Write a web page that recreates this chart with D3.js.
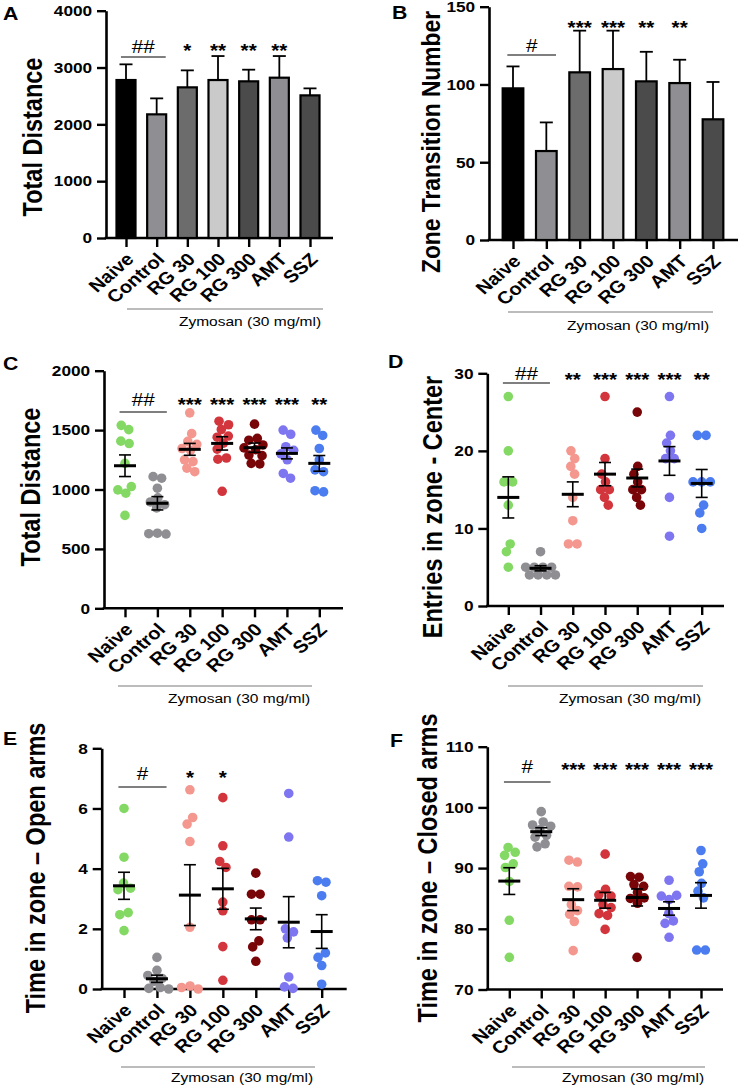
<!DOCTYPE html>
<html><head><meta charset="utf-8">
<script src="https://cdn.jsdelivr.net/npm/d3@7"></script>
<style>
body{margin:0;background:#fff}
text{font-family:"Liberation Sans",Arial,Helvetica,sans-serif;fill:#000}
</style>
</head><body>
<svg id="chart" width="740" height="1087"></svg>
<script>
// ---------- DATA ----------
const categories = ["Naive", "Control", "RG 30", "RG 100", "RG 300", "AMT", "SSZ"];
const groupLabel = "Zymosan (30 mg/ml)";

// Panel A: bars (mean, SD)
const distanceA = [2780, 2176, 2651, 2780, 2757, 2821, 2510];
const distanceAErr = [276, 281, 299, 422, 205, 381, 123];
const sigA = ["", "", "*", "**", "**", "**", ""];
const hashA = "##";
const ticksA = [0, 1000, 2000, 3000, 4000];

// Panel B: bars
const transitionsB = [97.5, 57.2, 107.8, 109.9, 102.0, 100.9, 77.6];
const transitionsBErr = [14.1, 18.4, 26.8, 24.7, 19.0, 15.0, 24.0];
const sigB = ["", "", "***", "***", "**", "**", ""];
const hashB = "#";
const ticksB = [0, 50, 100, 150];

// Panel C: individual points + mean/SEM
const distanceC = [
  [1540, 1504, 1407, 1387, 1220, 1025, 997, 969, 782],
  [1108, 1095, 1011, 930, 895, 872, 845, 632, 628, 625],
  [1645, 1470, 1405, 1380, 1345, 1330, 1250, 1235, 1180, 1150],
  [1575, 1545, 1505, 1450, 1440, 1390, 1340, 1265, 1255, 985],
  [1550, 1430, 1415, 1375, 1350, 1335, 1290, 1285, 1220, 1215],
  [1500, 1465, 1360, 1330, 1300, 1250, 1135, 1095],
  [1500, 1455, 1345, 1250, 1165, 1150, 990, 980]
];
const distanceCMean = [1200, 884, 1338, 1388, 1352, 1304, 1220];
const distanceCSem = [91, 56, 50, 56, 39, 46, 66];
const sigC = ["", "", "***", "***", "***", "***", "**"];
const hashC = "##";
const ticksC = [0, 500, 1000, 1500, 2000];

// Panel D
const entriesD = [
  [27, 20, 16, 16, 13, 8, 7, 5],
  [7, 5, 5, 5, 5, 4, 4, 4, 4],
  [20, 19, 18, 17, 14, 11, 8, 8],
  [27, 19, 17, 16, 15, 15, 14, 13],
  [25, 18, 17, 16, 15, 15, 14, 13],
  [27, 22, 21, 20, 19, 19, 14, 9],
  [22, 22, 16, 16, 16, 13, 12, 10]
];
const entriesDMean = [14.0, 4.86, 14.4, 17.0, 16.5, 18.7, 15.8];
const entriesDSem = [2.65, 0.33, 1.6, 1.5, 1.15, 1.85, 1.8];
const sigD = ["", "", "**", "***", "***", "***", "**"];
const hashD = "##";
const ticksD = [0, 10, 20, 30];

// Panel E
const openE = [
  [6.0, 4.38, 3.52, 3.35, 3.3, 2.54, 2.47, 1.94],
  [1.05, 0.62, 0.45, 0.35, 0.25, 0.05, 0.02, 0.0],
  [6.62, 5.7, 5.48, 4.9, 2.05, 0.1, 0.05, 0.0],
  [6.36, 4.76, 4.24, 4.04, 2.89, 2.6, 1.41, 0.29],
  [3.85, 3.15, 3.15, 2.3, 2.3, 1.6, 1.4, 0.92],
  [6.5, 5.05, 2.0, 1.9, 1.7, 0.4, 0.07, 0.02],
  [3.6, 3.55, 3.1, 1.2, 1.05, 0.78, 0.16]
];
const openEMean = [3.43, 0.34, 3.12, 3.33, 2.33, 2.22, 1.91];
const openESem = [0.45, 0.12, 1.01, 0.68, 0.36, 0.85, 0.56];
const sigE = ["", "", "*", "*", "", "", ""];
const hashE = "#";
const ticksE = [0, 2, 4, 6, 8];

// Panel F
const closedF = [
  [93.4, 92.6, 92.1, 90.7, 90.1, 87.8, 81.4, 75.3],
  [99.3, 97.6, 97.1, 96.9, 96.3, 95.4, 95.1, 94.0, 93.5],
  [91.3, 91.0, 87.0, 86.9, 84.0, 83.0, 82.4, 81.2, 76.4],
  [92.3, 86.5, 85.6, 85.4, 84.0, 83.5, 82.5, 82.2, 79.9],
  [88.6, 88.5, 87.3, 87.0, 86.0, 85.1, 85.0, 84.2, 75.3],
  [88.0, 85.5, 85.4, 84.8, 82.5, 81.3, 80.9, 78.6],
  [92.9, 90.7, 89.4, 87.5, 86.2, 85.1, 76.5, 76.5]
];
const closedFMean = [87.86, 96.0, 84.8, 84.7, 85.16, 83.35, 85.5];
const closedFSem = [2.2, 0.65, 1.8, 1.3, 1.4, 1.1, 2.1];
const sigF = ["", "", "***", "***", "***", "***", "***"];
const hashF = "#";
const ticksF = [70, 80, 90, 100, 110];

// ---------- STYLE ----------
const barColors = ["#000000", "#8f8f93", "#6c6c6c", "#cacaca", "#4b4b4b", "#8f8f93", "#4b4b4b"];
const dotColors = ["#84d964", "#8e8e93", "#f4978f", "#d2363c", "#780508", "#7e75f1", "#4b7cf0"];
const SX = 1.15; // horizontal glyph stretch seen in the reference
const FONT = '"Liberation Sans",Arial,Helvetica,sans-serif';

const svg = d3.select("#chart");

function stretchedText(g, x, y, str, opts) {
  const rot = opts.rotate || 0;
  return g.append("text")
    .attr("transform", `translate(${x},${y}) scale(${SX},1) rotate(${rot})`)
    .attr("text-anchor", opts.anchor || "start")
    .attr("dy", opts.dy || null)
    .style("font-size", opts.size + "px")
    .style("font-weight", opts.weight || "normal")
    .text(str);
}

function panel(cfg) {
  const g = svg.append("g");
  const y = d3.scaleLinear().domain(cfg.domain).range([cfg.yBot, cfg.yTop]);
  const x = d3.scalePoint().domain(categories).range([cfg.first, cfg.last]);
  const step = x.step();

  // y axis
  const ya = g.append("g").attr("transform", `translate(${cfg.axisX},0)`)
    .call(d3.axisLeft(y).tickValues(cfg.ticks).tickFormat(d3.format("d"))
      .tickSize(9).tickSizeOuter(0).tickPadding(3));
  ya.select(".domain").attr("stroke", "#000").attr("stroke-width", 2.6);
  ya.selectAll(".tick line").attr("stroke", "#000").attr("stroke-width", 2.4);
  ya.selectAll(".tick text")
    .attr("transform", `scale(${SX},1)`)
    .style("font-family", FONT).style("font-size", "15px").style("font-weight", "bold").attr("fill", "#000");

  // x axis
  const xa = g.append("g").attr("transform", `translate(0,${cfg.yBot})`)
    .call(d3.axisBottom(x).tickSize(9).tickSizeOuter(0).tickFormat(""));
  xa.select(".domain").remove();
  xa.selectAll(".tick line").attr("stroke", "#000").attr("stroke-width", 2.4);
  g.append("line").attr("x1", cfg.axisX - 1.3).attr("x2", cfg.endX)
    .attr("y1", cfg.yBot).attr("y2", cfg.yBot).attr("stroke", "#000").attr("stroke-width", 2.6);

  categories.forEach(c => {
    stretchedText(g, x(c) + 4, cfg.yBot + 18, c, {rotate: -45, anchor: "end", dy: "0.35em", size: 17.5, weight: "bold"});
  });

  // group line + label
  const z = cfg.zym;
  g.append("line").attr("x1", z.x1).attr("x2", z.x2).attr("y1", z.y).attr("y2", z.y)
    .attr("stroke", "#7a7a7a").attr("stroke-width", 1.1);
  stretchedText(g, z.tx, z.ty, groupLabel, {anchor: "middle", size: 13.5});

  // y label
  stretchedText(g, cfg.yl[0], cfg.yl[1], cfg.ylabel, {rotate: -90, anchor: "middle", size: cfg.ylSize || 23.5, weight: "bold"});
  // panel letter
  stretchedText(g, cfg.letterPos[0], cfg.letterPos[1], cfg.letter, {size: 18.5, weight: "bold"});

  if (cfg.type === "bar") {
    const bw = step * 0.62;
    categories.forEach((c, i) => {
      const m = cfg.mean[i], e = cfg.err[i], cx = x(c);
      g.append("line").attr("x1", cx).attr("x2", cx).attr("y1", y(m)).attr("y2", y(m + e))
        .attr("stroke", "#000").attr("stroke-width", 1.8);
      g.append("line").attr("x1", cx - 6.5).attr("x2", cx + 6.5).attr("y1", y(m + e)).attr("y2", y(m + e))
        .attr("stroke", "#000").attr("stroke-width", 1.8);
      g.append("rect").attr("x", cx - bw / 2).attr("width", bw)
        .attr("y", y(m)).attr("height", y(cfg.domain[0]) - y(m))
        .attr("fill", barColors[i]).attr("stroke", "#000").attr("stroke-width", 2.2);
    });
  } else {
    const r = 4.8;
    categories.forEach((c, i) => {
      const cx = x(c);
      const nodes = cfg.points[i].map((v, k) => ({x: cx + (k % 2 ? 1 : -1) * (0.6 * k + 0.3), y: y(v), fy: y(v)}));
      const sim = d3.forceSimulation(nodes)
        .force("x", d3.forceX(cx).strength(0.07))
        .force("c", d3.forceCollide(r * 0.9))
        .stop();
      for (let t = 0; t < 250; t++) sim.tick();
      g.append("g").selectAll("circle").data(nodes).join("circle")
        .attr("cx", d => d.x).attr("cy", d => d.fy).attr("r", r)
        .attr("fill", dotColors[i]);
    });
    categories.forEach((c, i) => {
      const cx = x(c), m = cfg.mean[i], s = cfg.sem[i];
      const lc = "#000";
      g.append("line").attr("x1", cx).attr("x2", cx).attr("y1", y(m - s)).attr("y2", y(m + s))
        .attr("stroke", lc).attr("stroke-width", 1.6);
      [m - s, m + s].forEach(v => g.append("line").attr("x1", cx - 6).attr("x2", cx + 6)
        .attr("y1", y(v)).attr("y2", y(v)).attr("stroke", lc).attr("stroke-width", 1.6));
      g.append("line").attr("x1", cx - 11).attr("x2", cx + 11).attr("y1", y(m)).attr("y2", y(m))
        .attr("stroke", lc).attr("stroke-width", 3);
    });
  }

  // significance
  cfg.sig.forEach((s, i) => {
    if (!s) return;
    stretchedText(g, x(categories[i]), cfg.starY + 10.5, s, {anchor: "middle", size: 18, weight: "bold"});
  });
  const mid = (x(categories[0]) + x(categories[1])) / 2 + 2;
  g.append("line").attr("x1", mid - step * 0.73).attr("x2", mid + step * 0.73)
    .attr("y1", cfg.hashLineY).attr("y2", cfg.hashLineY).attr("stroke", "#555").attr("stroke-width", 1.5);
  stretchedText(g, mid, cfg.hashY + 6.3, cfg.hash, {anchor: "middle", size: 18});
}

panel({type: "bar", letter: "A", letterPos: [3, 20], ylabel: "Total Distance", yl: [42, 137],
  axisX: 106, endX: 333, first: 126, last: 310, yTop: 10.7, yBot: 238, domain: [0, 4000], ticks: ticksA,
  mean: distanceA, err: distanceAErr, sig: sigA, hash: hashA, starY: 46, hashY: 47, hashLineY: 57,
  zym: {x1: 127, x2: 323, y: 309, tx: 250, ty: 326}});

panel({type: "bar", letter: "B", letterPos: [392, 19], ylabel: "Zone Transition Number", yl: [440, 142], ylSize: 22.8,
  axisX: 489, endX: 738, first: 513, last: 713, yTop: 6.7, yBot: 240, domain: [0, 150], ticks: ticksB,
  mean: transitionsB, err: transitionsBErr, sig: sigB, hash: hashB, starY: 23, hashY: 46, hashLineY: 55,
  zym: {x1: 508, x2: 713, y: 312, tx: 638, ty: 330}});

panel({type: "dot", letter: "C", letterPos: [3, 370], ylabel: "Total Distance", yl: [40, 487],
  axisX: 104, endX: 343, first: 125, last: 319.3, yTop: 370.7, yBot: 608.3, domain: [0, 2000], ticks: ticksC,
  points: distanceC, mean: distanceCMean, sem: distanceCSem, sig: sigC, hash: hashC, starY: 400, hashY: 400, hashLineY: 412,
  zym: {x1: 118, x2: 312, y: 686, tx: 239, ty: 703}});

panel({type: "dot", letter: "D", letterPos: [388, 368], ylabel: "Entries in zone - Center", yl: [442, 507],
  axisX: 487.3, endX: 724, first: 508.3, last: 701.7, yTop: 373.3, yBot: 606, domain: [0, 30], ticks: ticksD,
  points: entriesD, mean: entriesDMean, sem: entriesDSem, sig: sigD, hash: hashD, starY: 375, hashY: 374, hashLineY: 383,
  zym: {x1: 508, x2: 703, y: 686, tx: 630, ty: 703}});

panel({type: "dot", letter: "E", letterPos: [3, 745], ylabel: "Time in zone \u2013 Open arms", yl: [45, 868],
  axisX: 101.7, endX: 346.7, first: 124, last: 321.7, yTop: 748.3, yBot: 989, domain: [0, 8], ticks: ticksE,
  points: openE, mean: openEMean, sem: openESem, sig: sigE, hash: hashE, starY: 773, hashY: 774, hashLineY: 787,
  zym: {x1: 121, x2: 315, y: 1067, tx: 242, ty: 1082}});

panel({type: "dot", letter: "F", letterPos: [390, 747], ylabel: "Time in zone \u2013 Closed arms", yl: [437, 868],
  axisX: 487.3, endX: 723, first: 509.3, last: 701, yTop: 746.7, yBot: 989.5, domain: [70, 110], ticks: ticksF,
  points: closedF, mean: closedFMean, sem: closedFSem, sig: sigF, hash: hashF, starY: 765, hashY: 767, hashLineY: 782,
  zym: {x1: 512, x2: 705, y: 1067, tx: 633, ty: 1082}});
</script>
</body></html>
